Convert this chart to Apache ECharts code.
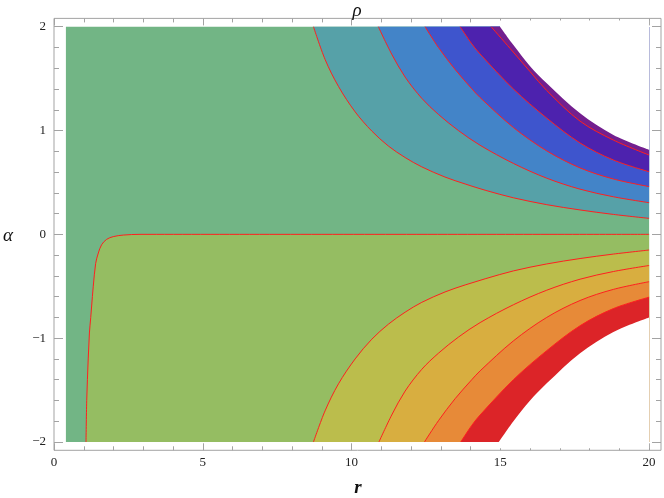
<!DOCTYPE html>
<html>
<head>
<meta charset="utf-8">
<script src="https://cdn.jsdelivr.net/npm/echarts@6/dist/echarts.min.js"></script>
<style>
  html, body { margin: 0; background: #fff; }
  #main { width: 664px; height: 498px; }
</style>
</head>
<body>
<div id="main"></div>
<script>
// 刻度
const rTicks = [0, 5, 10, 15, 20]
const alphaTicks = [-2, -1, 0, 1, 2]

// 等值线 [r, α]
// α = 0 下方的 L 形线
const lowerEdge = [[1.076, -2], [1.10, -1.6], [1.15, -1.2], [1.19, -0.95], [1.235, -0.8], [1.29, -0.6], [1.32, -0.5],
  [1.40, -0.28], [1.49, -0.18], [1.60, -0.10], [1.77, -0.048], [1.99, -0.022], [2.33, -0.007], [2.89, 0], [20, 0]]

// 上半部分
const upper1 = [[8.72, 2], [9.11, 1.685], [9.56, 1.425], [10.12, 1.18], [10.68, 0.995], [11.24, 0.85], [11.8, 0.74],
  [12.36, 0.65], [13.14, 0.552], [13.82, 0.485], [14.49, 0.425], [15.44, 0.352], [16.56, 0.286], [17.68, 0.235],
  [18.8, 0.192], [20, 0.154]]
const upper2 = [[10.9, 2], [11.35, 1.735], [11.8, 1.515], [12.36, 1.31], [12.92, 1.155], [13.59, 1.0], [14.32, 0.858],
  [15.44, 0.683], [16.56, 0.541], [17.68, 0.435], [18.8, 0.362], [20, 0.305]]
const upper3 = [[12.47, 2], [12.92, 1.80], [13.48, 1.588], [14.04, 1.403], [14.32, 1.318], [15.44, 1.029], [16.56, 0.804],
  [17.68, 0.64], [18.8, 0.533], [20, 0.46]]
const upper4 = [[13.65, 2], [14.04, 1.835], [14.32, 1.737], [15.44, 1.40], [16.56, 1.12], [17.68, 0.88], [18.8, 0.716], [20, 0.603]]
const upper5 = [[14.69, 2], [15.33, 1.79], [16.0, 1.567], [16.56, 1.385], [17.68, 1.09], [18.8, 0.908], [20, 0.764]]
const upperEnd = [[14.99, 2], [15.44, 1.824], [16.0, 1.62], [16.56, 1.455], [17.68, 1.166], [18.8, 0.957], [20, 0.815]]

// 下半部分
const lower1 = [[8.72, -2], [9.11, -1.70], [9.56, -1.44], [10.12, -1.20], [10.68, -1.01], [11.24, -0.865], [11.8, -0.75],
  [12.36, -0.655], [13.14, -0.555], [13.82, -0.487], [14.49, -0.428], [15.44, -0.352], [16.56, -0.285], [17.68, -0.233],
  [18.8, -0.19], [20, -0.151]]
const lower2 = [[10.92, -2], [11.35, -1.74], [11.8, -1.51], [12.36, -1.30], [12.92, -1.145], [13.59, -0.99], [14.32, -0.85],
  [15.44, -0.678], [16.56, -0.538], [17.68, -0.432], [18.8, -0.358], [20, -0.3]]
const lower3 = [[12.45, -2], [12.92, -1.795], [13.48, -1.583], [14.04, -1.40], [14.32, -1.315], [15.44, -1.026], [16.56, -0.80],
  [17.68, -0.637], [18.8, -0.53], [20, -0.456]]
const lower4 = [[13.67, -2], [14.04, -1.84], [14.32, -1.74], [15.44, -1.40], [16.56, -1.12], [17.68, -0.88], [18.8, -0.715], [20, -0.605]]
const lowerEnd = [[14.95, -2], [15.44, -1.80], [16.0, -1.60], [16.56, -1.435], [17.68, -1.145], [18.8, -0.94], [20, -0.80]]

// 整个绘图区域
const plotBox = [[0.4, 2], [20, 2]]

const serif = '"Liberation Serif", "DejaVu Serif", serif'
const frameColor = '#a3a3a3'
const contourColor = '#ff1f1f'

// 一条等值线 + 向 origin 方向填充
function band(data, fill, origin, withLine) {
  return {
    type: 'line',
    xAxisIndex: 0,
    yAxisIndex: 0,
    data: data,
    smooth: 0.33,
    symbol: 'none',
    silent: true,
    lineStyle: { color: contourColor, width: withLine ? 1 : 0 },
    areaStyle: { color: fill, opacity: 1, origin: origin },
  }
}

const tickStyle = { lineStyle: { color: frameColor, width: 1 } }

var myChart = echarts.init(document.getElementById('main'))
var option = {
  backgroundColor: '#fff',
  animation: false,
  grid: [
    // 数据 + 边框
    { left: 54, right: 3, top: 18.4, bottom: 47.7, show: true, borderColor: frameColor, borderWidth: 1, backgroundColor: 'transparent' },
    // α 刻度
    { left: 54, right: 3, top: 26.7, bottom: 56 },
    // r 刻度
    { left: 54, right: 15, top: 18.4, bottom: 47.7 },
  ],
  xAxis: [
    { gridIndex: 0, type: 'value', min: 0, max: 20.4, show: false },
    {
      gridIndex: 2, type: 'value', position: 'bottom', min: rTicks[0], max: rTicks[rTicks.length - 1], interval: 5,
      axisLine: { show: false }, splitLine: { show: false },
      axisTick: { show: true, inside: true, length: 7, ...tickStyle },
      minorTick: { show: true, splitNumber: 5, length: 4, ...tickStyle },
      axisLabel: { margin: 6, fontFamily: serif, fontSize: 13, color: '#222' },
    },
    {
      gridIndex: 2, type: 'value', position: 'top', min: rTicks[0], max: rTicks[rTicks.length - 1], interval: 5,
      axisLine: { show: false }, splitLine: { show: false },
      axisTick: { show: true, inside: true, length: 7, ...tickStyle },
      minorTick: { show: true, splitNumber: 5, length: 4, ...tickStyle },
      axisLabel: { show: false },
    },
    { gridIndex: 1, type: 'value', show: false },
  ],
  yAxis: [
    { gridIndex: 0, type: 'value', min: -2.08, max: 2.08, show: false },
    {
      gridIndex: 1, type: 'value', position: 'left', min: alphaTicks[0], max: alphaTicks[alphaTicks.length - 1], interval: 1,
      axisLine: { show: false }, splitLine: { show: false },
      axisTick: { show: true, inside: true, length: 9, ...tickStyle },
      minorTick: { show: true, splitNumber: 5, length: 5, ...tickStyle },
      axisLabel: {
        margin: 8, fontFamily: serif, fontSize: 13, color: '#222',
        formatter: (v) => (v < 0 ? '\u2212' + (-v) : String(v)),
      },
    },
    {
      gridIndex: 1, type: 'value', position: 'right', min: alphaTicks[0], max: alphaTicks[alphaTicks.length - 1], interval: 1,
      axisLine: { show: false }, splitLine: { show: false },
      axisTick: { show: true, inside: true, length: 9, ...tickStyle },
      minorTick: { show: true, splitNumber: 5, length: 5, ...tickStyle },
      axisLabel: { show: false },
    },
    { gridIndex: 2, type: 'value', show: false },
  ],
  graphic: [
    { type: 'text', x: 357, y: 11, style: { text: 'ρ', font: 'italic 19px ' + serif, textAlign: 'center', textVerticalAlign: 'middle', fill: '#111' } },
    { type: 'text', x: 358, y: 488, style: { text: 'r', font: 'italic bold 19px ' + serif, textAlign: 'center', textVerticalAlign: 'middle', fill: '#111' } },
    { type: 'text', x: 8, y: 236, style: { text: 'α', font: 'italic 19px ' + serif, textAlign: 'center', textVerticalAlign: 'middle', fill: '#111' } },
  ],
  series: [
    band(plotBox, '#72b585', -2, false),
    band(lowerEdge, '#95bd62', -2, true),
    // 下半部分色带
    band(lower1, '#bbbd4c', -2, true),
    band(lower2, '#d8ae40', -2, true),
    band(lower3, '#e78a38', -2, true),
    band(lower4, '#dc2428', -2, true),
    // 白色空白区：填到边框内侧，盖住抗锯齿残边
    band(lowerEnd, '#ffffff', -2.06, false),
    // 上半部分色带
    band(upper1, '#56a1a8', 2, true),
    band(upper2, '#4384c8', 2, true),
    band(upper3, '#3e55cd', 2, true),
    band(upper4, '#4d22ae', 2, true),
    band(upper5, '#731f8f', 2, true),
    band(upperEnd, '#ffffff', 2.06, false),
  ],
}
myChart.setOption(option)
</script>
</body>
</html>
